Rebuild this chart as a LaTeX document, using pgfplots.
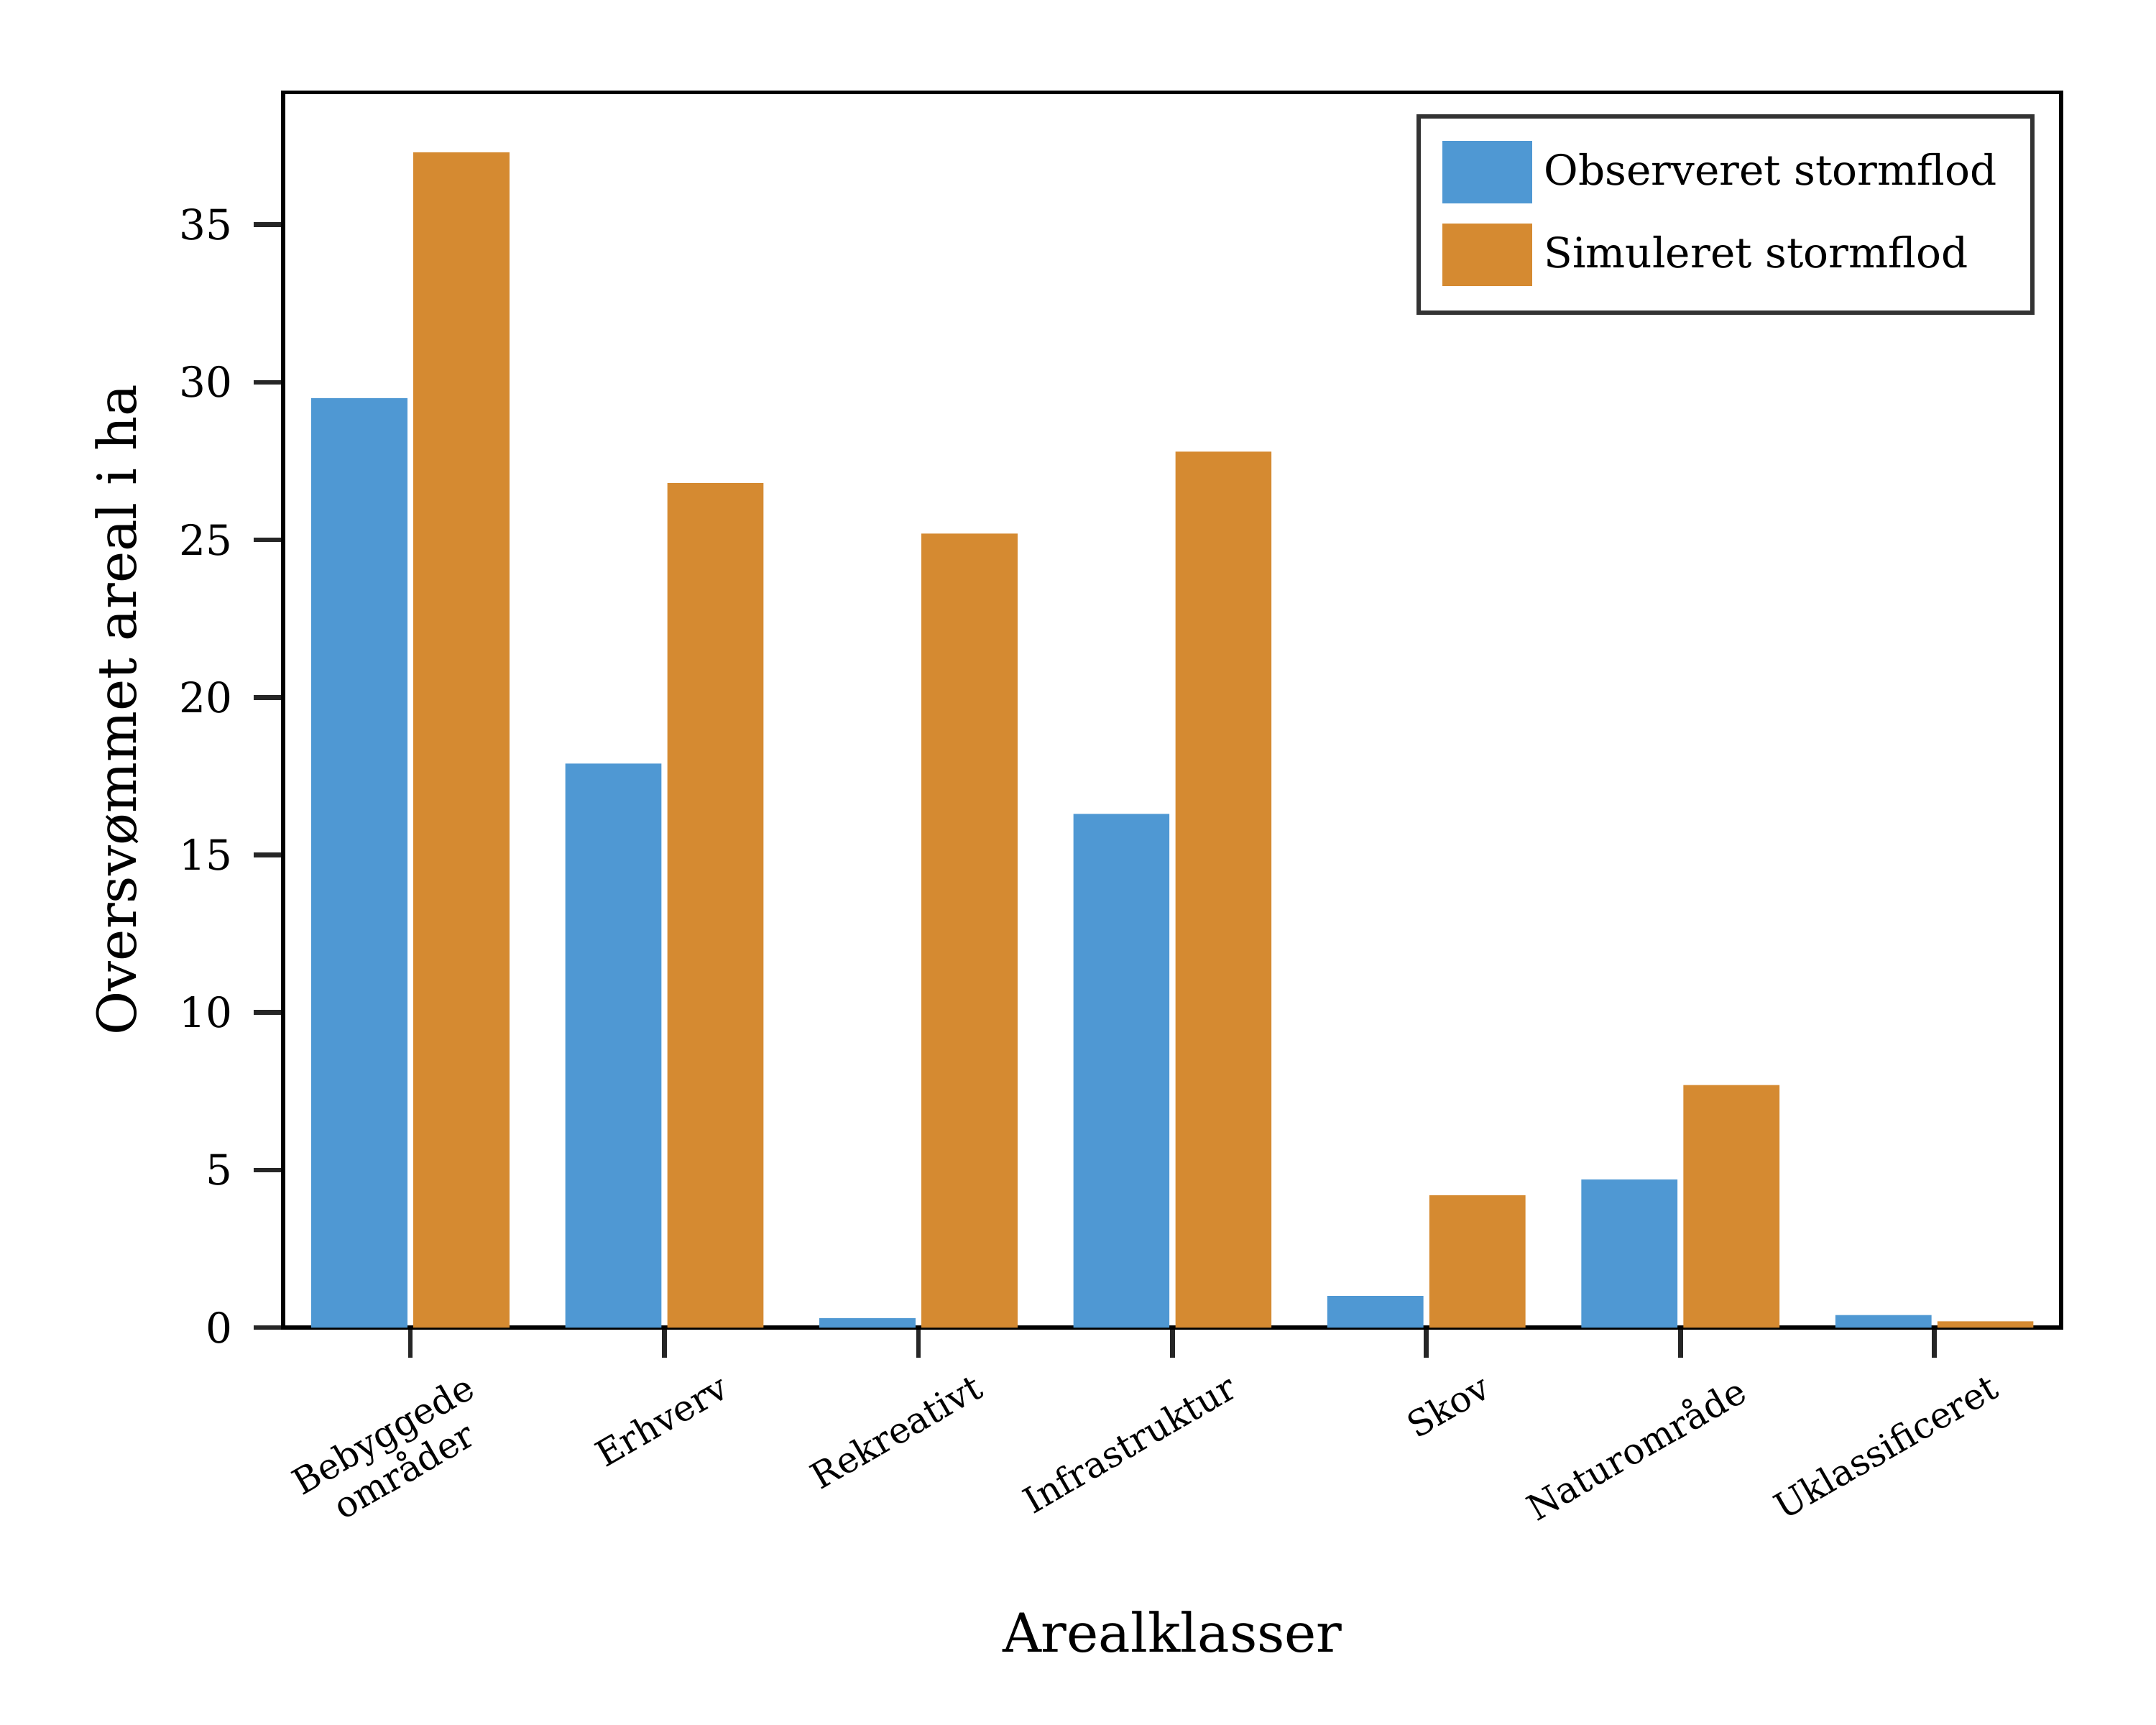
\documentclass[border=0pt]{standalone}
\usepackage{fontspec}
\setmainfont{DejaVu Serif}
\usepackage{pgfplots}
\pgfplotsset{compat=1.18}
\definecolor{cblue}{HTML}{4F98D3}
\definecolor{corange}{HTML}{D58A31}
\begin{document}
\begin{tikzpicture}
\path[use as bounding box] (-47.5pt,-66.6pt) rectangle ++(361.35pt,289.08pt);
\begin{axis}[
  at={(0,0)}, anchor=south west, scale only axis,
  width=298pt, height=207pt,
  ybar=1pt, bar width=16.1pt,
  xmin=-0.5, xmax=6.5, ymin=0, ymax=39.2,
  xtick={0,...,6},
  xticklabels={{Bebyggede\\områder},Erhverv,Rekreativt,Infrastruktur,Skov,Naturområde,Uklassificeret},
  xticklabel style={rotate=30, anchor=north east, align=center, font=\fontsize{6}{7}\selectfont, xshift=10pt, yshift=-3pt},
  ytick={0,5,...,35},
  yticklabel style={font=\fontsize{7}{8}\selectfont},
  /pgf/number format/assume math mode=true,
  tick align=outside, tick style={black!85, line width=0.8pt},
  major tick length=5pt,
  xtick pos=bottom, ytick pos=left,
  axis line style={line width=0.7pt},
  xlabel={Arealklasser}, ylabel={Oversvømmet areal i ha},
  label style={font=\fontsize{9}{10}\selectfont},
  xlabel style={yshift=-5pt},
  legend style={at={(0.985,0.982)}, anchor=north east, draw=black!80, line width=0.7pt, font=\fontsize{7}{8}\selectfont, inner xsep=4pt, inner ysep=4pt, row sep=3pt},
  legend cell align=left,
  legend image code/.code={\fill[#1] (0pt,-5pt) rectangle (15pt,5.5pt);},
  every legend entry/.style={xshift=5pt},
]
\addplot[fill=cblue, draw=none] coordinates {(0,29.5) (1,17.9) (2,0.3) (3,16.3) (4,1.0) (5,4.7) (6,0.4)};
\addplot[fill=corange, draw=none] coordinates {(0,37.3) (1,26.8) (2,25.2) (3,27.8) (4,4.2) (5,7.7) (6,0.2)};
\legend{Observeret stormflod\hspace{3pt}, Simuleret stormflod}
\end{axis}
\end{tikzpicture}
\end{document}
